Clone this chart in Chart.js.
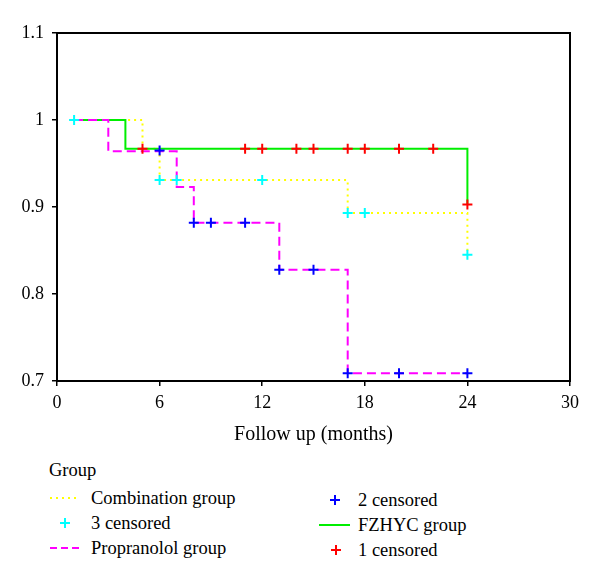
<!DOCTYPE html>
<html>
<head>
<meta charset="utf-8">
<script src="https://cdn.jsdelivr.net/npm/chart.js@4"></script>
<style>
  body { margin: 0; background: #fff; }
  #wrap { position: relative; width: 600px; height: 585px; font-family: 'Liberation Serif', serif; }
  #km { position: absolute; left: 0; top: 0; }
  .lg { position: absolute; font-size: 18.5px; line-height: 20px; color: #000; white-space: nowrap; }
  .sym { position: absolute; }
</style>
</head>
<body>
<div id="wrap">
  <canvas id="km" width="600" height="455"></canvas>
  <div class="lg" style="left:49px; top:460px;">Group</div>

  <svg class="sym" style="left:49px; top:494px;" width="32" height="8"><line x1="1" y1="4" x2="31" y2="4" stroke="#ffff00" stroke-width="2" stroke-dasharray="2,4"/></svg>
  <div class="lg" style="left:91px; top:488px;">Combination group</div>
  <svg class="sym" style="left:60px; top:518px;" width="10" height="10"><path d="M5 0 V10 M0 5 H10" stroke="#00ffff" stroke-width="2"/></svg>
  <div class="lg" style="left:91px; top:513px;">3 censored</div>
  <svg class="sym" style="left:49px; top:544px;" width="32" height="8"><line x1="1" y1="4" x2="31" y2="4" stroke="#ff00ff" stroke-width="2" stroke-dasharray="7,4"/></svg>
  <div class="lg" style="left:91px; top:538px;">Propranolol group</div>

  <svg class="sym" style="left:330px; top:495px;" width="10" height="10"><path d="M5 0 V10 M0 5 H10" stroke="#0000ff" stroke-width="2"/></svg>
  <div class="lg" style="left:358px; top:490px;">2 censored</div>
  <svg class="sym" style="left:319px; top:521px;" width="31" height="8"><line x1="0" y1="4" x2="31" y2="4" stroke="#00ee00" stroke-width="2"/></svg>
  <div class="lg" style="left:358px; top:515px;">FZHYC group</div>
  <svg class="sym" style="left:331px; top:545px;" width="10" height="10"><path d="M5 0 V10 M0 5 H10" stroke="#ff0000" stroke-width="2"/></svg>
  <div class="lg" style="left:358px; top:540px;">1 censored</div>
</div>
<script>
// axis ticks
const monthTicks = [0, 6, 12, 18, 24, 30];
const survTicks = [0.7, 0.8, 0.9, 1, 1.1];
const survTickLabels = ['0.7', '0.8', '0.9', '1', '1.1'];

// survival steps (time of change, survival after it)
const combTimes = [1, 5, 6, 17, 24];
const combSurv = [1, 0.967, 0.931, 0.893, 0.845];
const propTimes = [1, 3, 7, 8, 13, 17, 24];
const propSurv = [1, 0.964, 0.923, 0.882, 0.828, 0.709, 0.709];
const fzhycTimes = [1, 4, 24];
const fzhycSurv = [1, 0.967, 0.903];

// censored marks
const cens3Times = [1, 6, 7, 12, 17, 18, 24];
const cens3Surv = [1, 0.931, 0.931, 0.931, 0.893, 0.893, 0.845];
const cens2Times = [6, 8, 9, 11, 13, 15, 17, 20, 24];
const cens2Surv = [0.965, 0.882, 0.882, 0.882, 0.828, 0.828, 0.709, 0.709, 0.709];
const cens1Times = [5, 11, 12, 14, 15, 17, 18, 20, 22, 24];
const cens1Surv = [0.967, 0.967, 0.967, 0.967, 0.967, 0.967, 0.967, 0.967, 0.967, 0.903];

const pts = (xs, ys) => xs.map((x, i) => ({ x: x, y: ys[i] }));

function censDs(label, xs, ys, color) {
    return {
        label: label,
        data: pts(xs, ys),
        showLine: false,
        pointStyle: 'cross',
        pointRadius: 5,
        borderColor: color,
        borderWidth: 2
    };
}

function curveDs(label, xs, ys, color, dash) {
    return {
        label: label,
        data: pts(xs, ys),
        showLine: true,
        stepped: 'before',
        borderColor: color,
        borderWidth: 2,
        borderDash: dash,
        pointRadius: 0,
        fill: false
    };
}

const boxPlugin = {
    id: 'box',
    afterDatasetsDraw(chart) {
        const { ctx, chartArea: a } = chart;
        ctx.save();
        ctx.strokeStyle = '#000';
        ctx.lineWidth = 2;
        ctx.strokeRect(a.left, a.top, a.right - a.left, a.bottom - a.top);
        ctx.restore();
    }
};

const font = { family: "'Liberation Serif', serif", size: 18 };

new Chart(document.getElementById('km'), {
    type: 'scatter',
    data: {
        datasets: [
            censDs('1 censored', cens1Times, cens1Surv, '#ff0000'),
            censDs('2 censored', cens2Times, cens2Surv, '#0000ff'),
            censDs('3 censored', cens3Times, cens3Surv, '#00ffff'),
            curveDs('Propranolol group', propTimes, propSurv, '#ff00ff', [9, 5]),
            curveDs('FZHYC group', fzhycTimes, fzhycSurv, '#00ee00', []),
            curveDs('Combination group', combTimes, combSurv, '#ffff00', [2, 4])
        ]
    },
    options: {
        responsive: false,
        animation: false,
        layout: { padding: { top: 33, right: 30, bottom: 0, left: 0 } },
        plugins: {
            legend: { display: false },
            tooltip: { enabled: false }
        },
        scales: {
            x: {
                type: 'linear',
                min: 0,
                max: 30,
                afterFit(scale) { scale.height = 74; },
                afterBuildTicks(scale) { scale.ticks = monthTicks.map(v => ({ value: v })); },
                ticks: { color: '#000', font: font, padding: 6, maxRotation: 0 },
                grid: { drawOnChartArea: false, drawTicks: true, tickLength: 5, color: '#000', lineWidth: 1.5 },
                border: { display: true, color: '#000', width: 2 },
                title: {
                    display: true,
                    text: 'Follow up (months)',
                    color: '#000',
                    font: { family: "'Liberation Serif', serif", size: 20 },
                    padding: { top: 0, bottom: 8 }
                }
            },
            y: {
                type: 'linear',
                min: 0.7,
                max: 1.1,
                afterFit(scale) { scale.width = 57; },
                afterBuildTicks(scale) { scale.ticks = survTicks.map(v => ({ value: v })); },
                ticks: {
                    color: '#000',
                    font: font,
                    padding: 8,
                    callback: (v, i) => survTickLabels[i]
                },
                grid: { drawOnChartArea: false, drawTicks: true, tickLength: 5, color: '#000', lineWidth: 1.5 },
                border: { display: true, color: '#000', width: 2 }
            }
        }
    },
    plugins: [boxPlugin]
});
</script>
</body>
</html>
